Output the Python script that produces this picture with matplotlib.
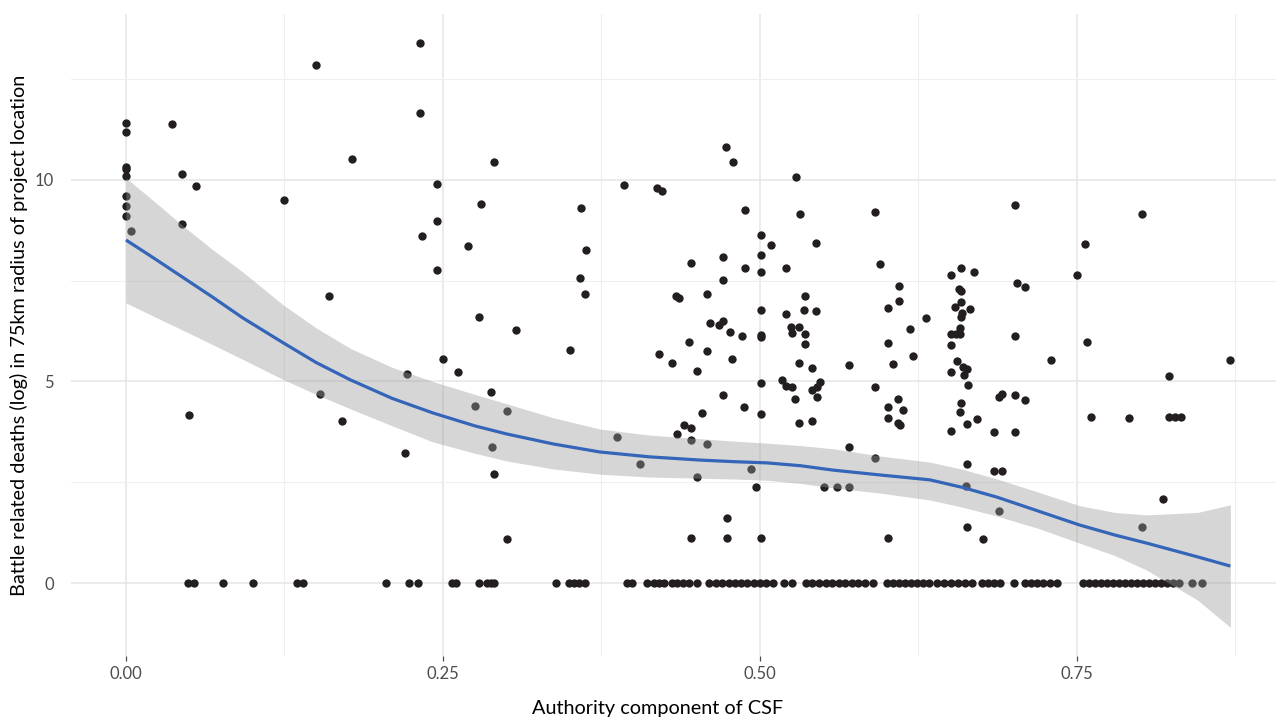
import numpy as np
import matplotlib
matplotlib.use("Agg")
import matplotlib.pyplot as plt
from matplotlib.ticker import FixedLocator

plt.rcParams['font.family'] = ['Lato', 'DejaVu Sans']

# points with deaths > 0 (authority component, log battle deaths)
csf = [0, 0, 0, 0, 0, 0, 0, 0, 0.004,
       0.0365, 0.0439, 0.055, 0.0439, 0.1249, 0.1501, 0.178, 0.2319, 0.2319, 0.2453,
       0.2902, 0.2802, 0.2453, 0.2334, 0.270, 0.2453, 0.160, 0.2782,
       0.3076, 0.0497, 0.1532, 0.1701, 0.2216, 0.250, 0.2621, 0.2879, 0.2752, 0.3002,
       0.2889, 0.220, 0.2902, 0.3002,
       0.4729, 0.4785, 0.5284, 0.3925, 0.4185, 0.4229, 0.4879, 0.5315, 0.5907, 0.3586,
       0.5006, 0.5089, 0.5439, 0.5946, 0.3628, 0.5006, 0.4706, 0.4453, 0.4879, 0.5006,
       0.5205, 0.3578, 0.4706, 0.3622, 0.4338, 0.4359, 0.4580, 0.5355, 0.6094, 0.6094,
       0.6007, 0.5006, 0.5205, 0.5345, 0.5439, 0.3502, 0.4603, 0.4674, 0.4706, 0.4763,
       0.4856, 0.5006, 0.5006, 0.5244, 0.5308, 0.5255, 0.5355, 0.5355, 0.6007, 0.4438,
       0.4580, 0.4206, 0.4304, 0.4506, 0.4779, 0.5308, 0.5408, 0.5704, 0.6046, 0.5006,
       0.5171, 0.5205, 0.5255, 0.5274, 0.5408, 0.5447, 0.5473, 0.5447, 0.5907, 0.4706,
       0.4871, 0.4540, 0.5006, 0.5308, 0.5408, 0.6007, 0.6007, 0.6086, 0.6086, 0.4403,
       0.4453,
       0.4343, 0.5704, 0.4453, 0.4580, 0.3870, 0.4054, 0.4506, 0.4927, 0.4971, 0.5507,
       0.5607, 0.5704, 0.5907, 0.4737, 0.4453, 0.4737, 0.5006, 0.6007,
       0.7009, 0.8013, 0.7561, 0.7498, 0.6509, 0.6583, 0.6690, 0.6309, 0.6567, 0.6585,
       0.7027, 0.7092, 0.6583, 0.6538, 0.6656, 0.6591, 0.6583, 0.6580, 0.6506, 0.6546,
       0.6577, 0.6509, 0.6185, 0.6209, 0.6556, 0.6603, 0.6635, 0.6609, 0.6509, 0.6640,
       0.7009, 0.7576, 0.7297, 0.8709, 0.8226, 0.6125, 0.6104, 0.6583, 0.6577, 0.6709,
       0.6635, 0.6509, 0.6843, 0.6887, 0.6909, 0.7009, 0.7092, 0.7009, 0.7610, 0.7913,
       0.8226, 0.8273, 0.8318, 0.6635, 0.6625, 0.6843, 0.6911, 0.6885, 0.8178, 0.8013,
       0.6635, 0.6761]
deaths = [11.42, 11.20, 10.33, 10.27, 10.10, 9.61, 9.36, 9.11, 8.73,
          11.40, 10.14, 9.85, 8.91, 9.50, 12.84, 10.51, 13.39, 11.65, 9.89,
          10.45, 9.40, 8.97, 8.60, 8.35, 7.77, 7.12, 6.61,
          6.28, 4.16, 4.69, 4.01, 5.18, 5.55, 5.24, 4.73, 4.40, 4.27,
          3.37, 3.22, 2.70, 1.09,
          10.83, 10.44, 10.07, 9.88, 9.79, 9.72, 9.26, 9.16, 9.21, 9.30,
          8.63, 8.38, 8.44, 7.91, 8.25, 8.13, 8.08, 7.93, 7.82, 7.72,
          7.82, 7.57, 7.51, 7.17, 7.12, 7.08, 7.18, 7.13, 7.36, 7.00,
          6.82, 6.77, 6.67, 6.77, 6.76, 5.78, 6.44, 6.39, 6.51, 6.24,
          6.12, 6.15, 6.10, 6.36, 6.36, 6.21, 6.18, 5.94, 5.96, 5.97,
          5.76, 5.68, 5.47, 5.27, 5.55, 5.47, 5.33, 5.41, 5.44, 4.97,
          5.04, 4.89, 4.86, 4.57, 4.79, 4.87, 4.98, 4.62, 4.86, 4.67,
          4.36, 4.21, 4.19, 3.98, 4.01, 4.36, 4.09, 4.56, 3.96, 3.92,
          3.85,
          3.70, 3.37, 3.55, 3.44, 3.62, 2.95, 2.64, 2.84, 2.39, 2.39,
          2.39, 2.39, 3.09, 1.61, 1.11, 1.11, 1.11, 1.11,
          9.38, 9.16, 8.41, 7.64, 7.63, 7.82, 7.72, 6.58, 7.30, 7.25,
          7.45, 7.35, 6.97, 6.84, 6.80, 6.69, 6.59, 6.33, 6.17, 6.17,
          6.17, 5.91, 6.29, 5.63, 5.51, 5.37, 5.31, 5.16, 5.24, 4.91,
          6.13, 5.98, 5.54, 5.53, 5.14, 4.29, 3.92, 4.46, 4.24, 4.06,
          3.94, 3.76, 3.74, 4.61, 4.68, 4.67, 4.55, 3.74, 4.11, 4.09,
          4.11, 4.11, 4.11, 2.95, 2.41, 2.78, 2.78, 1.79, 2.08, 1.38,
          1.38, 1.09]

# projects with zero battle deaths
csf_no_deaths = [0.0491, 0.0539, 0.0765, 0.0999, 0.1351, 0.1399, 0.2050, 0.2234, 0.2300,
                 0.2569, 0.2603, 0.2786, 0.2845, 0.2876, 0.2905,
                 0.3391, 0.3494, 0.3533, 0.3573, 0.3620, 0.3949, 0.3993,
                 0.4109, 0.4164, 0.4204, 0.4243, 0.4306, 0.4345, 0.4393, 0.4440, 0.4503,
                 0.4598, 0.4653, 0.4700, 0.4756, 0.4803, 0.4850, 0.4897, 0.4953, 0.5000,
                 0.5047, 0.5103, 0.5189, 0.5252,
                 0.5363, 0.5410, 0.5465, 0.5521, 0.5568, 0.5623, 0.5670, 0.5726, 0.5773,
                 0.5828, 0.5891,
                 0.6002, 0.6049, 0.6096, 0.6144, 0.6191, 0.6238, 0.6286, 0.6333,
                 0.6396, 0.6451, 0.6506, 0.6562, 0.6617, 0.6672,
                 0.6751, 0.6798, 0.6845, 0.6893,
                 0.7003, 0.7090, 0.7137, 0.7185, 0.7232, 0.7287, 0.7342,
                 0.7547, 0.7595, 0.7642, 0.7689, 0.7737, 0.7784, 0.7831, 0.7879, 0.7926,
                 0.7973, 0.8020, 0.8068, 0.8115, 0.8162, 0.8210, 0.8257, 0.8304,
                 0.8407, 0.8486]

# loess fit and 95% band
fit_x = [0.000, 0.023, 0.045, 0.068, 0.092, 0.124, 0.150, 0.177, 0.210, 0.242,
         0.275, 0.300, 0.337, 0.374, 0.413, 0.453, 0.480, 0.506, 0.532, 0.558,
         0.595, 0.634, 0.660, 0.687, 0.720, 0.752, 0.780, 0.805, 0.845, 0.871]
fit_y = [8.51, 8.04, 7.58, 7.10, 6.58, 5.96, 5.47, 5.04, 4.58, 4.22,
         3.90, 3.70, 3.45, 3.25, 3.13, 3.05, 3.01, 2.98, 2.91, 2.80,
         2.68, 2.56, 2.37, 2.13, 1.78, 1.44, 1.19, 0.99, 0.65, 0.42]
fit_lo = [6.95, 6.60, 6.27, 5.92, 5.55, 5.05, 4.68, 4.32, 3.90, 3.50,
          3.22, 3.03, 2.83, 2.70, 2.63, 2.60, 2.58, 2.55, 2.47, 2.36,
          2.23, 2.06, 1.88, 1.66, 1.35, 0.99, 0.68, 0.32, -0.42, -1.10]
fit_hi = [10.05, 9.45, 8.86, 8.28, 7.72, 6.90, 6.33, 5.82, 5.35, 5.00,
          4.68, 4.45, 4.10, 3.82, 3.67, 3.58, 3.52, 3.47, 3.41, 3.33,
          3.15, 3.00, 2.82, 2.58, 2.25, 1.92, 1.75, 1.69, 1.75, 1.94]

x_all = np.concatenate([csf, csf_no_deaths])
y_all = np.concatenate([deaths, np.zeros(len(csf_no_deaths))])

fig = plt.figure(figsize=(12.76, 7.19), dpi=100)
ax = fig.add_axes([0.0554, 0.0871, 0.9446, 0.893])

ax.scatter(x_all, y_all, s=36, color='#231f20', linewidths=0, zorder=2)
ax.fill_between(fit_x, fit_lo, fit_hi, color='#999999', alpha=0.4, linewidth=0, zorder=3)
ax.plot(fit_x, fit_y, color='#3465b8', lw=2.3, zorder=4, solid_capstyle='butt')

ax.set_xlim(-0.0436, 0.907)
ax.set_ylim(-1.82, 14.11)

ax.xaxis.set_major_locator(FixedLocator([0, 0.25, 0.5, 0.75]))
ax.xaxis.set_minor_locator(FixedLocator([0.125, 0.375, 0.625, 0.875]))
ax.yaxis.set_major_locator(FixedLocator([0, 5, 10]))
ax.yaxis.set_minor_locator(FixedLocator([2.5, 7.5, 12.5]))
ax.set_xticklabels(['0.00', '0.25', '0.50', '0.75'])
ax.set_yticklabels(['0', '5', '10'])

ax.grid(which='major', color='#e5e5e5', lw=1.1)
ax.grid(which='minor', color='#efefef', lw=0.8)
ax.set_axisbelow(True)
for s in ax.spines.values():
    s.set_visible(False)

ax.tick_params(axis='x', which='major', length=3.6, width=0.9, color='#4d4d4d',
               pad=3, labelsize=12, labelcolor='#4d4d4d')
ax.tick_params(axis='y', which='major', length=0, pad=12, labelsize=12, labelcolor='#4d4d4d')
ax.tick_params(which='minor', length=0)

ax.set_xlabel('Authority component of CSF', fontsize=14.3, color='black')
ax.set_ylabel('Battle related deaths (log) in 75km radius of project location',
              fontsize=14.3, color='black')
ax.xaxis.set_label_coords(0.487, -0.0685)
ax.yaxis.set_label_coords(-0.0354, 0.5)

fig.savefig('out.png', dpi=100)
